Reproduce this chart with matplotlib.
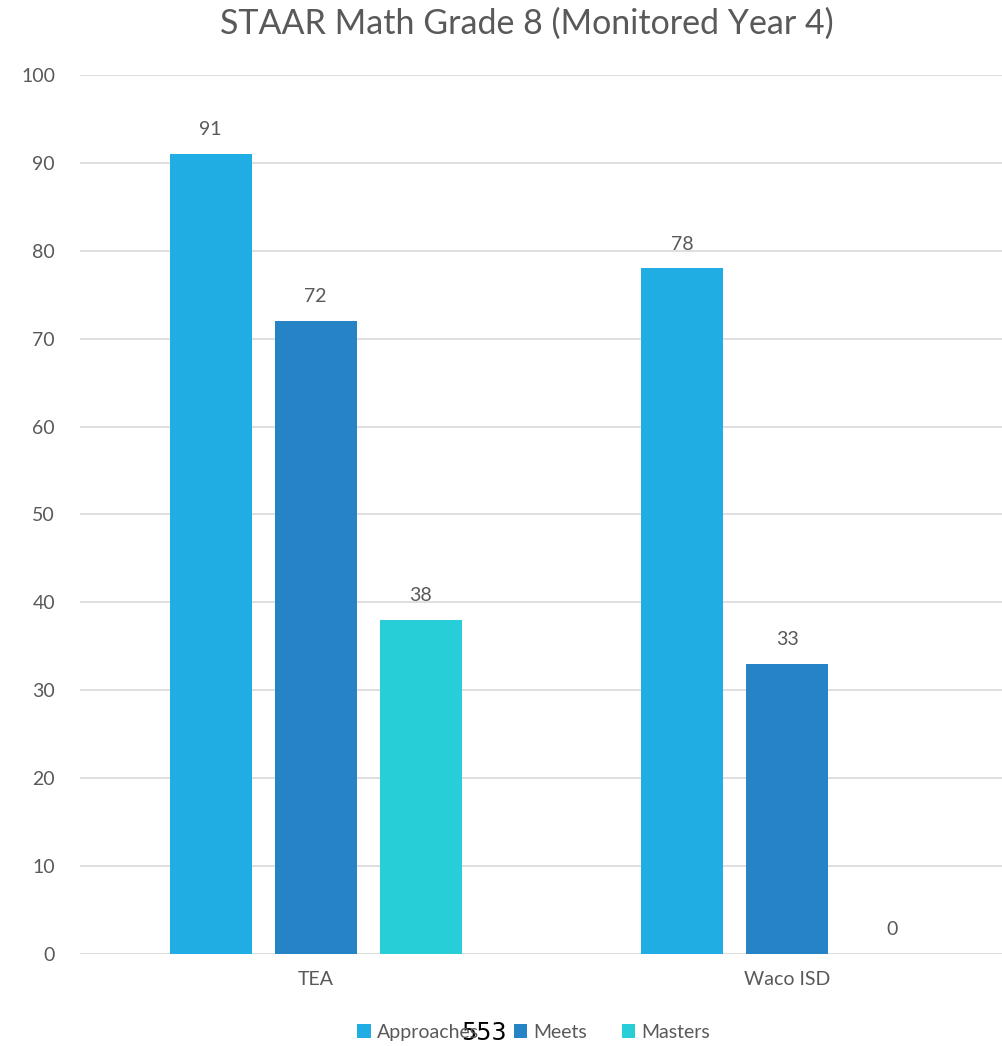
import matplotlib.pyplot as plt
import numpy as np

plt.rcParams['font.family'] = ['Lato', 'DejaVu Sans']

groups = ["TEA", "Waco ISD"]
series = ["Approaches", "Meets", "Masters"]
approaches = [91, 78]
meets = [72, 33]
masters = [38, 0]
colors = ["#1FADE4", "#2683C6", "#27CED7"]
grey = "#595959"

fig = plt.figure(figsize=(10.03, 10.46), dpi=100)
ax = fig.add_axes([0.0798, 0.088, 0.94, 0.8403])

x = np.arange(len(groups))
width = 0.174
pitch = 0.223
for i, (vals, name) in enumerate(zip([approaches, meets, masters], series)):
    pos = x + (i - 1) * pitch
    ax.bar(pos, vals, width, color=colors[i], label=name, zorder=3)
    for p, v in zip(pos, vals):
        ax.text(p, v + 1.8, str(v), ha="center", va="bottom", fontsize=14, color=grey)

ax.set_xlim(-0.5, 1.5)
ax.set_ylim(0, 100)
ax.set_yticks(range(0, 101, 10))
ax.set_xticks(x)
ax.set_xticklabels(groups)
ax.tick_params(length=0, labelsize=14, labelcolor=grey)
ax.tick_params(axis="x", pad=12)
ax.tick_params(axis="y", pad=18)
ax.grid(axis="y", color="#D9D9D9", lw=1.2, zorder=0)
for s in ax.spines.values():
    s.set_visible(False)

fig.suptitle("STAAR Math Grade 8 (Monitored Year 4)", x=0.525, y=0.993,
             fontsize=24.5, color=grey)

fig.legend(loc="center", bbox_to_anchor=(0.532, 0.013), ncol=3, frameon=False,
           fontsize=14, labelcolor=grey, handlelength=0.7, handleheight=0.7,
           handletextpad=0.3, columnspacing=1.8)
fig.text(0.482, 0.012, "553", ha="center", va="center", fontsize=17, color="black",
         family="DejaVu Sans")

fig.savefig("out.png", dpi=100)
